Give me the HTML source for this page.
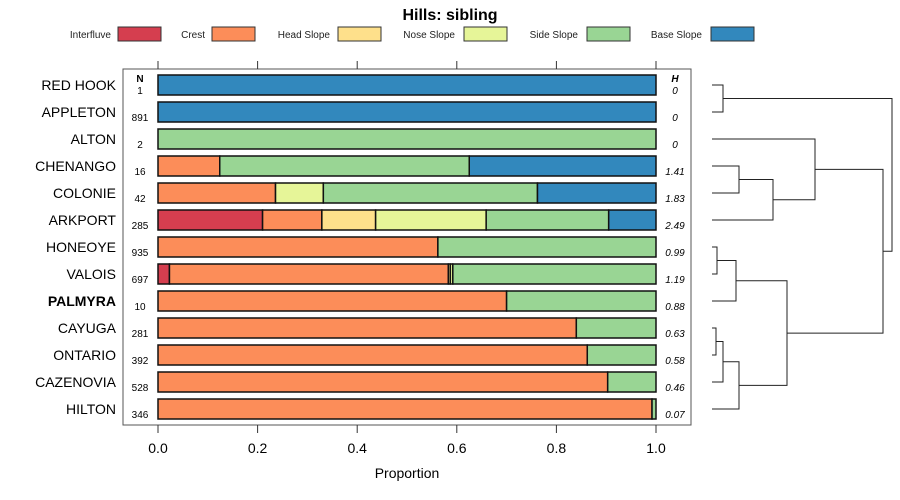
<!DOCTYPE html>
<html><head><meta charset="utf-8"><style>
body{margin:0;background:#fff;}
svg{display:block;font-family:"Liberation Sans",sans-serif;}
</style></head><body>
<svg id="chart" width="900" height="500"></svg>
<script>
const categories=["RED HOOK","APPLETON","ALTON","CHENANGO","COLONIE","ARKPORT","HONEOYE","VALOIS","PALMYRA","CAYUGA","ONTARIO","CAZENOVIA","HILTON"];
const nValues=[1,891,2,16,42,285,935,697,10,281,392,528,346];
const hValues=["0","0","0","1.41","1.83","2.49","0.99","1.19","0.88","0.63","0.58","0.46","0.07"];
const seriesNames=["Interfluve","Crest","Head Slope","Nose Slope","Side Slope","Base Slope"];
const interfluve=[0,0,0,0,0,0.21,0,0.023,0,0,0,0,0];
const crest=[0,0,0,0.124,0.236,0.119,0.562,0.56,0.70,0.84,0.862,0.903,0.992];
const headSlope=[0,0,0,0,0,0.108,0,0.004,0,0,0,0,0];
const noseSlope=[0,0,0,0,0.096,0.222,0,0.005,0,0,0,0,0];
const sideSlope=[0,0,1,0.501,0.43,0.246,0.438,0.408,0.30,0.16,0.138,0.097,0.008];
const baseSlope=[1,1,0,0.375,0.238,0.095,0,0,0,0,0,0,0];
const xTicks=[0,0.2,0.4,0.6,0.8,1.0];
const xTickLabels=["0.0","0.2","0.4","0.6","0.8","1.0"];

const series=[interfluve,crest,headSlope,noseSlope,sideSlope,baseSlope];
const colors=["#d53e4f","#fc8d59","#fee08b","#e6f598","#99d594","#3288bd"];
const NS="http://www.w3.org/2000/svg";
const svg=document.getElementById("chart");
function mk(tag,attrs,parent){const e=document.createElementNS(NS,tag);for(const k in attrs)e.setAttribute(k,attrs[k]);(parent||svg).appendChild(e);return e;}
const x=v=>158+v*498;
const y=i=>85+i*27;

let t=mk("text",{x:450,y:20,"text-anchor":"middle","font-size":16,"font-weight":"bold"});t.textContent="Hills: sibling";



const legX=[[111,118],[205,212],[330,338],[455,464],[578,587],[702,711]];
seriesNames.forEach((n,i)=>{
  const g=mk("g",{});
  
  
  const tt=mk("text",{x:legX[i][0],y:38,"text-anchor":"end","font-size":10,fill:"#222"},g);tt.textContent=n;
  mk("rect",{x:legX[i][1],y:27,width:43,height:14,fill:colors[i],stroke:"#333","stroke-width":1},g);
});

const frame=mk("rect",{x:123,y:69,width:568,height:356,fill:"none",stroke:"#555","stroke-width":1});



xTicks.forEach((v,i)=>{
  mk("line",{x1:x(v),x2:x(v),y1:61,y2:69,stroke:"#333"});
  mk("line",{x1:x(v),x2:x(v),y1:425,y2:433,stroke:"#333"});
  const l=mk("text",{x:x(v),y:453,"text-anchor":"middle","font-size":14});l.textContent=xTickLabels[i];
  
  
});
t=mk("text",{x:407,y:478,"text-anchor":"middle","font-size":14});t.textContent="Proportion";



t=mk("text",{x:140,y:82,"text-anchor":"middle","font-size":10,"font-weight":"bold"});t.textContent="N";
t=mk("text",{x:675,y:82,"text-anchor":"middle","font-size":10,"font-weight":"bold","font-style":"italic"});t.textContent="H";

categories.forEach((c,i)=>{
  const lab=mk("text",{x:116,y:y(i)+5,"text-anchor":"end","font-size":14,"font-weight":c==="PALMYRA"?"bold":"normal"});lab.textContent=c;
  
  
  const nt=mk("text",{x:140,y:y(i)+9,"text-anchor":"middle","font-size":10});nt.textContent=nValues[i];
  
  
  const ht=mk("text",{x:675,y:y(i)+9,"text-anchor":"middle","font-size":10,"font-style":"italic"});ht.textContent=hValues[i];
  
  
  let cum=0;
  series.forEach((s,k)=>{
    const v=s[i]; if(v<=0)return;
    const r=mk("rect",{x:x(cum),y:y(i)-10,width:x(cum+v)-x(cum),height:20,fill:colors[k],stroke:"#111","stroke-width":1.5});
    
    
    cum+=v;
  });
});

// dendrogram
const dg=mk("g",{stroke:"#222","stroke-width":1,fill:"none"});


function link(x0a,ya,x0b,yb,xm){mk("path",{d:`M${x0a},${ya}H${xm}V${yb}H${x0b}`},dg);}
const L=712;
link(L,y(0),L,y(1),723);
link(L,y(3),L,y(4),739);
link(739,(y(3)+y(4))/2,L,y(5),773);
link(L,y(2),773,(y(3)+y(4))/2/2+y(5)/2,815);
link(L,y(6),L,y(7),717);
link(717,(y(6)+y(7))/2,L,y(8),736);
link(L,y(9),L,y(10),716);
link(716,(y(9)+y(10))/2,L,y(11),723);
const cz=((y(9)+y(10))/2+y(11))/2;
link(723,cz,L,y(12),739);
const hv=((y(6)+y(7))/2+y(8))/2, cy=(cz+y(12))/2;
link(736,hv,739,cy,787);
const al=(y(2)+((y(3)+y(4))/2+y(5))/2)/2, hc=(hv+cy)/2;
link(815,al,787,hc,883);
link(723,(y(0)+y(1))/2,883,(al+hc)/2,892);
</script>
</body></html>
